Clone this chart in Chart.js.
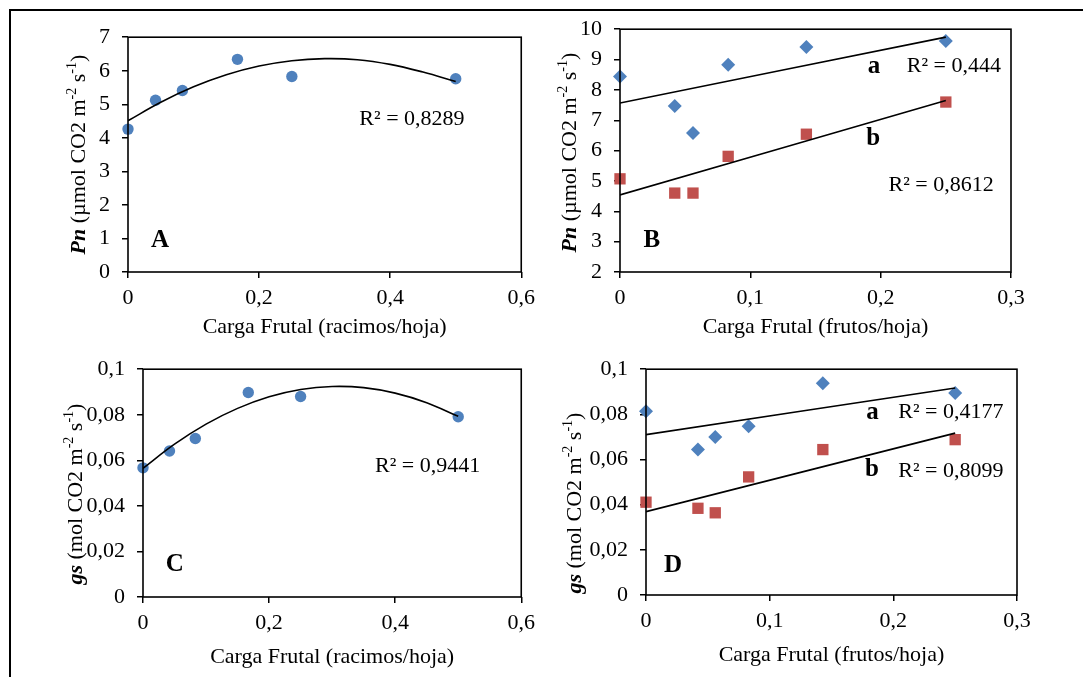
<!DOCTYPE html>
<html>
<head>
<meta charset="utf-8">
<script src="https://cdn.jsdelivr.net/npm/chart.js@4"></script>
<style>
  body { margin: 0; background: #fff; width: 1083px; height: 677px; overflow: hidden; position: relative; }
  #frame { position: absolute; left: 9px; top: 9px; width: 1200px; height: 800px; border-left: 2px solid #000; border-top: 2px solid #000; }
  canvas { position: absolute; }
</style>
</head>
<body>
<div id="frame"></div>
<script>
// carga frutal por racimos (paneles A y C)
const xRacimos = [0, 0.042, 0.083, 0.167, 0.25, 0.5];
const pnRacimos = [4.26, 5.12, 5.41, 6.34, 5.83, 5.76];
const gsRacimos = [0.0567, 0.0641, 0.0696, 0.0898, 0.088, 0.0791];

// curva de tendencia polinomica
const curveX = [0, 0.05, 0.1, 0.15, 0.2, 0.25, 0.3, 0.35, 0.4, 0.45, 0.5];
const pnCurve = [4.51, 5.06, 5.52, 5.88, 6.14, 6.30, 6.36, 6.33, 6.19, 5.96, 5.68];
const gsCurve = [0.0565, 0.0671, 0.0759, 0.0828, 0.0879, 0.0911, 0.0924, 0.0919, 0.0895, 0.0853, 0.0793];

// carga frutal por frutos (paneles B y D), grupos a y b
const xFrutos = [0, 0.042, 0.056, 0.083, 0.143, 0.25];
const pnGrupoA = [8.44, 7.47, 6.58, 8.83, 9.41, 9.61];
const pnGrupoB = [5.07, 4.60, 4.60, 5.81, 6.54, 7.60];
const gsGrupoA = [0.0814, 0.0644, 0.070, 0.0747, 0.0938, 0.0895];
const gsGrupoB = [0.0411, 0.0384, 0.0364, 0.0523, 0.0644, 0.0688];

// rectas de tendencia (extremos)
const lineX = [0, 0.25];
const pnTrendA = [7.57, 9.74];
const pnTrendB = [4.54, 7.65];
const gsTrendA = [0.0710, 0.0917];
const gsTrendB = [0.0369, 0.0717];

const BLUE = '#4F81BD';
const RED = '#C0504D';
const FONT = "'Liberation Serif', 'Times New Roman', serif";

const pts = (xs, ys) => xs.map((x, i) => ({x: x, y: ys[i]}));
const fmt = v => String(+Number(v).toFixed(4)).replace('.', ',');

function scatter(xs, ys, color, style, r) {
    return {type: 'scatter', data: pts(xs, ys), backgroundColor: color, borderColor: color,
        pointStyle: style, pointRadius: r, pointHoverRadius: r, borderWidth: 0, order: 2, clip: false};
}
function trend(xs, ys) {
    return {type: 'line', data: pts(xs, ys), borderColor: '#000', borderWidth: 1.6,
        pointRadius: 0, tension: 0.4, fill: false, order: 1};
}

// titulo del eje y con negrita cursiva y superindices
const yTitlePlugin = {
    id: 'yTitle',
    afterDraw(chart) {
        const o = chart.options.plugins.yTitle;
        const ctx = chart.ctx;
        const a = chart.chartArea;
        const parts = [
            {t: o.sym, f: 'bold italic 22px ' + FONT, dy: 0},
            {t: ' (' + o.unit + ' m', f: '22px ' + FONT, dy: 0},
            {t: '-2', f: '14px ' + FONT, dy: -7},
            {t: ' s', f: '22px ' + FONT, dy: 0},
            {t: '-1', f: '14px ' + FONT, dy: -7},
            {t: ')', f: '22px ' + FONT, dy: 0}
        ];
        ctx.save();
        let total = 0;
        parts.forEach(p => { ctx.font = p.f; p.w = ctx.measureText(p.t).width; total += p.w; });
        ctx.translate(a.left - o.dx, (a.top + a.bottom) / 2 + o.dy);
        ctx.rotate(-Math.PI / 2);
        ctx.fillStyle = '#000';
        ctx.textBaseline = 'middle';
        ctx.textAlign = 'left';
        let x = -total / 2;
        parts.forEach(p => { ctx.font = p.f; ctx.fillText(p.t, x, p.dy); x += p.w; });
        ctx.restore();
    }
};

// marco del area de trazado y anotaciones
const boxPlugin = {
    id: 'boxNotes',
    afterDraw(chart) {
        const ctx = chart.ctx;
        const a = chart.chartArea;
        const {x, y} = chart.scales;
        ctx.save();
        ctx.strokeStyle = '#000';
        ctx.lineWidth = 1.6;
        ctx.strokeRect(a.left, a.top, a.right - a.left, a.bottom - a.top);
        ctx.fillStyle = '#000';
        ctx.textBaseline = 'middle';
        ctx.textAlign = 'left';
        chart.options.plugins.boxNotes.notes.forEach(n => {
            ctx.font = (n.bold ? 'bold 25px ' : '22px ') + FONT;
            ctx.fillText(n.t, x.getPixelForValue(n.x), y.getPixelForValue(n.y));
        });
        ctx.restore();
    }
};

function makePanel(p) {
    const c = document.createElement('canvas');
    c.width = p.box[2];
    c.height = p.box[3];
    c.style.left = p.box[0] + 'px';
    c.style.top = p.box[1] + 'px';
    document.body.appendChild(c);
    const a = p.area;
    const pad = {
        left: a[0] - p.box[0] - p.yW,
        top: a[1] - p.box[1],
        right: p.box[0] + p.box[2] - a[2],
        bottom: p.box[1] + p.box[3] - a[3] - p.xH
    };
    const tickFont = {family: FONT, size: 22};
    new Chart(c, {
        data: {datasets: p.datasets},
        options: {
            responsive: false,
            animation: false,
            layout: {padding: pad},
            plugins: {
                legend: {display: false},
                tooltip: {enabled: false},
                yTitle: p.yTitle,
                boxNotes: {notes: p.notes}
            },
            scales: {
                x: {
                    type: 'linear', min: p.xr[0], max: p.xr[1],
                    ticks: {stepSize: p.xr[2], callback: fmt, color: '#000', font: tickFont, padding: 7, maxRotation: 0},
                    grid: {drawOnChartArea: false, tickLength: 6, color: '#000', lineWidth: 1.5},
                    border: {display: false},
                    title: {display: true, text: p.xTitle, color: '#000', font: tickFont, padding: 0},
                    afterFit: s => { s.height = p.xH; }
                },
                y: {
                    type: 'linear', min: p.yr[0], max: p.yr[1],
                    ticks: {stepSize: p.yr[2], callback: fmt, color: '#000', font: tickFont, padding: 12},
                    grid: {drawOnChartArea: false, tickLength: 6, color: '#000', lineWidth: 1.5},
                    border: {display: false},
                    afterFit: s => { s.width = p.yW; }
                }
            }
        },
        plugins: [yTitlePlugin, boxPlugin]
    });
}

makePanel({
    box: [12, 12, 530, 332], area: [128, 33, 523, 272], yW: 60, xH: 68,
    xr: [0, 0.6, 0.2], yr: [0, 7, 1],
    xTitle: 'Carga Frutal (racimos/hoja)',
    yTitle: {sym: 'Pn', unit: 'µmol CO2', dx: 49, dy: 0},
    datasets: [trend(curveX, pnCurve), scatter(xRacimos, pnRacimos, BLUE, 'circle', 5.7)],
    notes: [
        {t: 'R² = 0,8289', x: 0.353, y: 4.55},
        {t: 'A', x: 0.035, y: 0.94, bold: true}
    ]
});

makePanel({
    box: [545, 4, 538, 340], area: [620, 24, 1011, 272], yW: 60, xH: 68,
    xr: [0, 0.3, 0.1], yr: [2, 10, 1],
    xTitle: 'Carga Frutal (frutos/hoja)',
    yTitle: {sym: 'Pn', unit: 'µmol CO2', dx: 50, dy: 2},
    datasets: [
        trend(lineX, pnTrendA), trend(lineX, pnTrendB),
        scatter(xFrutos, pnGrupoA, BLUE, 'rectRot', 7),
        scatter(xFrutos, pnGrupoB, RED, 'rect', 8)
    ],
    notes: [
        {t: 'a', x: 0.190, y: 8.77, bold: true},
        {t: 'R² = 0,444', x: 0.220, y: 8.77},
        {t: 'b', x: 0.189, y: 6.39, bold: true},
        {t: 'R² = 0,8612', x: 0.206, y: 4.87},
        {t: 'B', x: 0.018, y: 3.03, bold: true}
    ]
});

makePanel({
    box: [12, 344, 530, 333], area: [143, 361, 523, 597], yW: 60, xH: 73,
    xr: [0, 0.6, 0.2], yr: [0, 0.1, 0.02],
    xTitle: 'Carga Frutal (racimos/hoja)',
    yTitle: {sym: 'gs', unit: 'mol CO2', dx: 67, dy: 11},
    datasets: [trend(curveX, gsCurve), scatter(xRacimos, gsRacimos, BLUE, 'circle', 5.7)],
    notes: [
        {t: 'R² = 0,9441', x: 0.368, y: 0.0572},
        {t: 'C', x: 0.036, y: 0.0144, bold: true}
    ]
});

makePanel({
    box: [545, 344, 538, 333], area: [646, 358, 1017, 595], yW: 60, xH: 73,
    xr: [0, 0.3, 0.1], yr: [0, 0.1, 0.02],
    xTitle: 'Carga Frutal (frutos/hoja)',
    yTitle: {sym: 'gs', unit: 'mol CO2', dx: 71, dy: 21},
    datasets: [
        trend(lineX, gsTrendA), trend(lineX, gsTrendB),
        scatter(xFrutos, gsGrupoA, BLUE, 'rectRot', 7),
        scatter(xFrutos, gsGrupoB, RED, 'rect', 8)
    ],
    notes: [
        {t: 'a', x: 0.178, y: 0.081, bold: true},
        {t: 'R² = 0,4177', x: 0.204, y: 0.081},
        {t: 'b', x: 0.177, y: 0.0557, bold: true},
        {t: 'R² = 0,8099', x: 0.204, y: 0.0549},
        {t: 'D', x: 0.0146, y: 0.0131, bold: true}
    ]
});
</script>
</body>
</html>
